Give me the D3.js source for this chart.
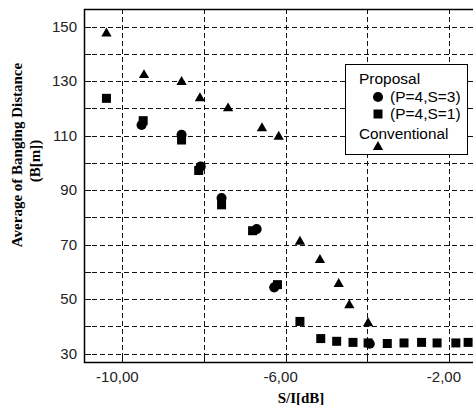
<!DOCTYPE html>
<html><head><meta charset="utf-8">
<script src="https://cdn.jsdelivr.net/npm/d3@7"></script>
<style>body{margin:0;background:#fff}svg{display:block}</style>
</head><body>
<script>
// Data
const convX = [-10.39, -9.47, -8.55, -8.10, -7.41, -6.58, -6.17, -5.65, -5.16, -4.70, -4.44, -3.98];
const convY = [147.9, 132.6, 130.1, 124.1, 120.4, 113.1, 110.0, 71.4, 64.7, 55.9, 48.1, 41.5];
const s1X = [-10.39, -9.49, -8.55, -8.13, -7.57, -6.81, -6.20, -5.65, -5.14, -4.75, -4.35, -3.98, -3.51, -3.10, -2.67, -2.29, -1.83, -1.53];
const s1Y = [123.7, 115.5, 108.4, 97.2, 84.6, 75.1, 55.3, 41.8, 35.5, 34.5, 34.1, 33.9, 33.7, 33.9, 34.1, 33.9, 33.9, 34.1];
const s3X = [-9.53, -8.55, -8.08, -7.57, -6.71, -6.28, -3.94];
const s3Y = [113.9, 110.3, 98.7, 87.1, 75.7, 54.3, 33.6];
const xGrid = [-10, -8, -6, -4, -2];
const xLabels = [-10, -6, -2];
const xLabelText = ["-10,00", "-6,00", "-2,00"];
const yGrid = [30, 40, 50, 60, 70, 80, 90, 100, 110, 120, 130, 140, 150];
const yLabels = [30, 50, 70, 90, 110, 130, 150];
const legendItems = ["Proposal", "(P=4,S=3)", "(P=4,S=1)", "Conventional"];

const W = 473, H = 405;
const L = 84, R = 473, T = 9, B = 362;
const svg = d3.select("body").append("svg").attr("width", W).attr("height", H);
const x = d3.scaleLinear().domain([-10.94, -1.41]).range([L, R]);
const y = d3.scaleLinear().domain([26.9, 156.5]).range([B, T]);

const g = svg.append("g");
// grid
g.selectAll("line.hg").data(yGrid).enter().append("line")
  .attr("x1", L).attr("x2", W).attr("y1", d => Math.round(y(d)) + 0.5).attr("y2", d => Math.round(y(d)) + 0.5)
  .attr("stroke", "#111").attr("stroke-width", 1).attr("stroke-dasharray", "5,3");
g.selectAll("line.vg").data(xGrid).enter().append("line")
  .attr("y1", T).attr("y2", B).attr("x1", d => Math.round(x(d)) + 0.5).attr("x2", d => Math.round(x(d)) + 0.5)
  .attr("stroke", "#111").attr("stroke-width", 1).attr("stroke-dasharray", "5,3");
// ticks
g.selectAll("line.xt").data(xGrid).enter().append("line")
  .attr("y1", B - 9).attr("y2", B).attr("x1", d => Math.round(x(d)) + 0.5).attr("x2", d => Math.round(x(d)) + 0.5)
  .attr("stroke", "#111");
g.selectAll("line.yt").data(yGrid).enter().append("line")
  .attr("x1", L).attr("x2", L + 7).attr("y1", d => Math.round(y(d)) + 0.5).attr("y2", d => Math.round(y(d)) + 0.5)
  .attr("stroke", "#111");
// frame
g.append("path").attr("d", `M${W},${T + 0.5}H${L + 0.5}V${B + 0.5}H${W}`)
  .attr("fill", "none").attr("stroke", "#000").attr("stroke-width", 1.5);

// tick labels
svg.selectAll("text.yl").data(yLabels).enter().append("text")
  .attr("x", 77).attr("y", d => y(d) + 5).attr("text-anchor", "end")
  .attr("font-family", "Liberation Sans, Arial, sans-serif").attr("font-size", 15).attr("fill", "#222")
  .text(d => d);
svg.selectAll("text.xl").data(xLabels).enter().append("text")
  .attr("x", d => x(d) - 5).attr("y", 382).attr("text-anchor", "middle")
  .attr("font-family", "Liberation Sans, Arial, sans-serif").attr("font-size", 15).attr("fill", "#222")
  .text((d, i) => xLabelText[i]);

// axis titles
svg.append("text").attr("x", 301).attr("y", 403).attr("text-anchor", "middle")
  .attr("font-family", "Liberation Serif, serif").attr("font-weight", "bold").attr("font-size", 15)
  .text("S/I[dB]");
const yt = svg.append("text").attr("transform", "translate(22,155) rotate(-90)")
  .attr("text-anchor", "middle").attr("font-family", "Liberation Serif, serif")
  .attr("font-weight", "bold").attr("font-size", 15);
yt.append("tspan").attr("x", 0).attr("y", 0).text("Average of Banging Distance");
yt.append("tspan").attr("x", -6).attr("y", 18).text("(B[m])");

// markers
const circ = d3.symbol().type(d3.symbolCircle).size(80);
const sq = d3.symbol().type(d3.symbolSquare).size(81);
const tri = d3.symbol().type(d3.symbolTriangle).size(46);
const pts = svg.append("g").attr("fill", "#000");
pts.selectAll("path.c").data(s3X).enter().append("path")
  .attr("d", circ).attr("transform", (d, i) => `translate(${x(d)},${y(s3Y[i])})`);
pts.selectAll("path.s").data(s1X).enter().append("path")
  .attr("d", sq).attr("transform", (d, i) => `translate(${x(d)},${y(s1Y[i])})`);
pts.selectAll("path.t").data(convX).enter().append("path")
  .attr("d", tri).attr("transform", (d, i) => `translate(${x(d)},${y(convY[i]) + 1})`);

// legend
const lg = svg.append("g");
lg.append("rect").attr("x", 345.5).attr("y", 64.5).attr("width", 122).attr("height", 90)
  .attr("fill", "#fff").attr("stroke", "#000").attr("stroke-width", 1);
const lf = "Liberation Sans, Arial, sans-serif";
lg.append("text").attr("x", 359).attr("y", 84).attr("font-family", lf).attr("font-size", 15.5).text(legendItems[0]);
lg.append("path").attr("d", circ).attr("transform", "translate(378,97)");
lg.append("text").attr("x", 390).attr("y", 102).attr("font-family", lf).attr("font-size", 15.5).text(legendItems[1]);
lg.append("path").attr("d", sq).attr("transform", "translate(378,114)");
lg.append("text").attr("x", 390).attr("y", 119).attr("font-family", lf).attr("font-size", 15.5).text(legendItems[2]);
lg.append("text").attr("x", 359).attr("y", 139).attr("font-family", lf).attr("font-size", 15.3).text(legendItems[3]);
lg.append("path").attr("d", tri).attr("transform", "translate(378,147)");
</script>
</body></html>
